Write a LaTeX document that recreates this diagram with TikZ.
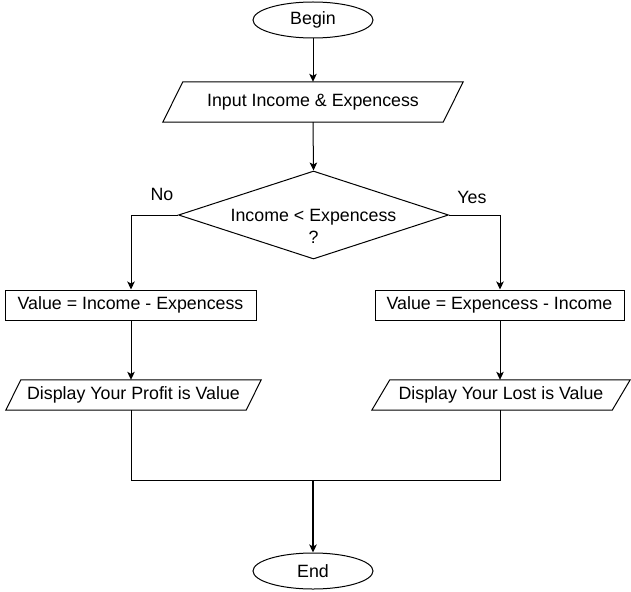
\documentclass[tikz,border=0pt]{standalone}
\usepackage{fontspec}
\setmainfont{Liberation Sans}
\usetikzlibrary{shapes.geometric,arrows.meta,calc}
\begin{document}
\begin{tikzpicture}[x=1pt,y=-1pt,
  every node/.style={font=\fontsize{17.8}{22}\selectfont, text=black},
  line/.style={draw=black, line width=1pt},
  arrow/.style={line, -{Stealth[length=8pt,width=7.5pt,inset=2pt]}},
  term/.style={ellipse, line, minimum width=120pt, minimum height=36pt, inner sep=0pt},
  procbox/.style={rectangle, line, minimum height=30pt, inner sep=0pt},
  iobox/.style={rectangle, draw=none, inner sep=0pt},
  decide/.style={diamond, line, minimum width=270pt, minimum height=88pt, inner sep=0pt},
  lbl/.style={inner sep=0pt}]
\useasboundingbox (0,0) rectangle (631,591);

\node[term] (begin) at (313,20) {\raisebox{-1pt}{Begin}};

\node[iobox, minimum width=300pt, minimum height=40pt] (input) at (313,102) {Input Income \& Expencess};
\draw[line] ([xshift=20pt]input.north west) -- (input.north east) -- ([xshift=-20pt]input.south east) -- (input.south west) -- cycle;

\node[decide, label={[align=center, yshift=-11pt, font=\fontsize{17.8}{22}\selectfont]center:Income < Expencess\\?}] (dec) at (313.5,215) {};

\node[lbl] (no) at (162,194) {No};
\node[lbl] (yes) at (472,197) {Yes};

\node[procbox, minimum width=251pt] (lbox) at (130.5,305) {Value = Income - Expencess};
\node[procbox, minimum width=249pt] (rbox) at (499.5,305) {Value = Expencess - Income};

\node[iobox, minimum width=255pt, minimum height=30pt] (lpar) at (133.5,395) {Display Your Profit is Value};
\draw[line] ([xshift=15pt]lpar.north west) -- (lpar.north east) -- ([xshift=-15pt]lpar.south east) -- (lpar.south west) -- cycle;

\node[iobox, minimum width=258pt, minimum height=30pt] (rpar) at (501,395) {Display Your Lost is Value};
\draw[line] ([xshift=18pt]rpar.north west) -- (rpar.north east) -- ([xshift=-18pt]rpar.south east) -- (rpar.south west) -- cycle;

\node[term] (end) at (313,571) {End};

\coordinate (ml) at (131,480);
\coordinate (mr) at (500,480);
\coordinate (mc) at (313,480);

\draw[arrow] (begin.south) -- (input.north);
\draw[arrow] (input.south) -- (dec.north);
\draw[arrow] (dec.west) -| (ml |- lbox.north);
\draw[arrow] (dec.east) -| (mr |- rbox.north);
\draw[arrow] (ml |- lbox.south) -- (ml |- lpar.north);
\draw[arrow] (mr |- rbox.south) -- (mr |- rpar.north);
\draw[line] (ml |- lpar.south) -- (ml) -- (mr) -- (mr |- rpar.south);
\draw[arrow, line width=1.6pt] (mc) -- (end.north);
\end{tikzpicture}
\end{document}
